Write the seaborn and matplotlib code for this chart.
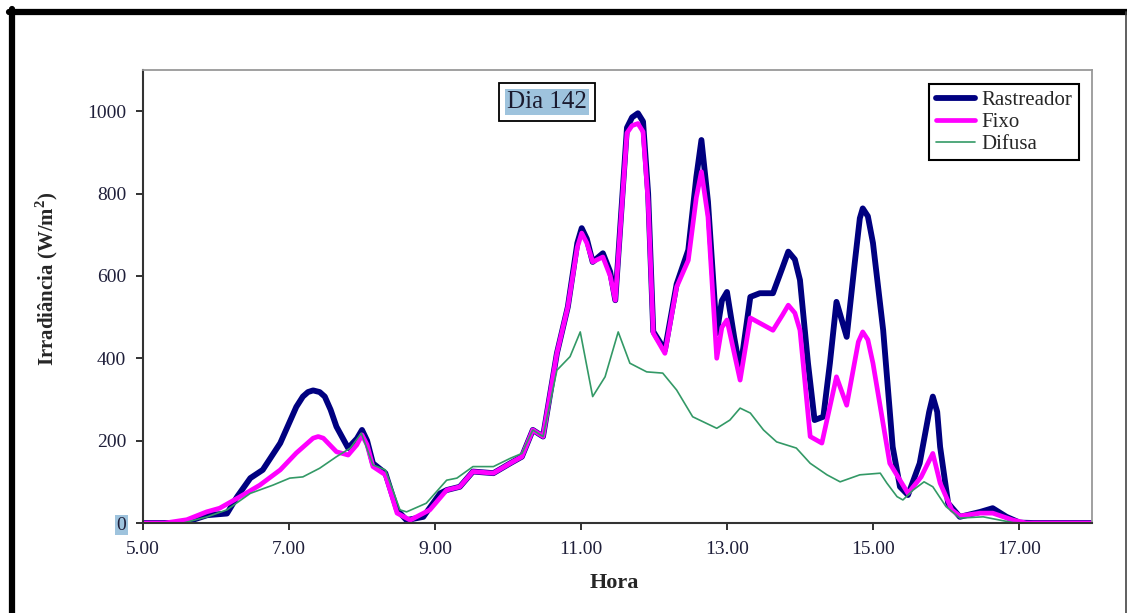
import matplotlib
matplotlib.use('Agg')
import matplotlib.pyplot as plt
import seaborn as sns
from matplotlib.lines import Line2D

# Irradiância ao longo do dia 142
hora_rastreador = [5.0, 5.55, 5.88, 6.15, 6.29, 6.47, 6.64, 6.88, 7.1, 7.19, 7.26, 7.33, 7.42, 7.49,
                   7.57, 7.65, 7.81, 7.93, 8.0, 8.07, 8.15, 8.32, 8.48, 8.61, 8.84, 9.07, 9.16,
                   9.34, 9.52, 9.8, 10.03, 10.19, 10.34, 10.48, 10.67, 10.82, 10.95, 11.01,
                   11.08, 11.16, 11.3, 11.4, 11.47, 11.63, 11.7, 11.78, 11.85, 11.92, 11.99,
                   12.15, 12.31, 12.47, 12.58, 12.65, 12.74, 12.86, 12.93, 13.0, 13.1, 13.18,
                   13.32, 13.45, 13.63, 13.76, 13.84, 13.93, 14.0, 14.11, 14.2, 14.32, 14.41,
                   14.5, 14.64, 14.75, 14.82, 14.86, 14.93, 15.0, 15.14, 15.27, 15.37, 15.48,
                   15.64, 15.77, 15.82, 15.88, 15.92, 16.03, 16.19, 16.47, 16.64, 16.83,
                   17.01, 17.2, 18.0]
rastreador = [0, 0, 19, 23, 64, 109, 129, 194, 282, 307, 318, 322, 318, 307,
              275, 234, 182, 205, 226, 200, 145, 121, 32, 7, 15, 72, 80,
              88, 125, 121, 145, 161, 226, 210, 412, 525, 680, 716,
              690, 634, 655, 610, 541, 960, 985, 995, 975, 800, 465,
              420, 580, 663, 840, 930, 780, 461, 540, 561, 450, 371,
              549, 558, 558, 620, 659, 640, 590, 388, 250, 258, 388,
              537, 452, 631, 740, 764, 745, 680, 468, 185, 88, 68,
              145, 270, 307, 270, 185, 48, 15, 27, 36, 15,
              1, 0, 0]

hora_fixo = [5.0, 5.3, 5.6, 5.87, 6.05, 6.33, 6.6, 6.88, 7.1, 7.33, 7.4, 7.47, 7.65, 7.81, 7.93,
             8.0, 8.07, 8.15, 8.32, 8.48, 8.66, 8.93, 9.16, 9.34, 9.52, 9.8, 10.03, 10.19,
             10.34, 10.48, 10.67, 10.82, 10.95, 11.01, 11.08, 11.16, 11.3, 11.4, 11.47,
             11.63, 11.7, 11.78, 11.85, 11.92, 11.99, 12.15, 12.31, 12.47, 12.58, 12.65,
             12.74, 12.86, 12.93, 13.0, 13.18, 13.32, 13.63, 13.76, 13.84, 13.93, 14.0,
             14.14, 14.3, 14.5, 14.64, 14.8, 14.86, 14.93, 15.0, 15.23, 15.48, 15.66,
             15.82, 15.92, 16.08, 16.19, 16.47, 16.64, 16.92, 17.1, 18.0]
fixo = [0, 0, 8, 27, 36, 64, 92, 129, 170, 206, 210, 206, 173, 165, 190,
        214, 190, 137, 117, 24, 7, 32, 80, 88, 125, 121, 145, 161,
        226, 210, 412, 525, 670, 704, 680, 634, 646, 600, 541,
        947, 965, 970, 950, 780, 461, 412, 573, 638, 790, 853,
        743, 400, 475, 493, 347, 498, 468, 505, 529, 510, 468,
        210, 194, 355, 286, 440, 464, 445, 388, 145, 72, 112,
        169, 97, 32, 17, 24, 24, 7, 0, 0]

hora_difusa = [5.0, 5.55, 5.88, 6.15, 6.47, 6.78, 7.01, 7.19, 7.42, 7.65, 7.84, 7.99, 8.15,
               8.32, 8.52, 8.61, 8.88, 9.16, 9.3, 9.52, 9.8, 10.03, 10.19, 10.34, 10.48,
               10.67, 10.85, 10.99, 11.16, 11.33, 11.51, 11.67, 11.9, 12.12, 12.31, 12.53,
               12.86, 13.04, 13.18, 13.32, 13.5, 13.68, 13.95, 14.14, 14.37, 14.55, 14.82,
               15.1, 15.19, 15.33, 15.41, 15.55, 15.7, 15.82, 16.0, 16.19, 16.51, 16.74,
               16.92, 17.1, 18.0]
difusa = [0, 0, 15, 32, 72, 92, 109, 112, 133, 161, 182, 218, 141,
          129, 32, 27, 48, 104, 109, 137, 137, 157, 169, 226, 210,
          371, 404, 464, 307, 355, 464, 388, 367, 364, 323, 258,
          230, 250, 279, 267, 226, 197, 182, 145, 117, 100, 117,
          121, 97, 64, 56, 80, 100, 88, 40, 12, 15, 7,
          1, 0, 0]

x_ticks = [5, 7, 9, 11, 13, 15, 17]
x_labels = ['5.00', '7.00', '9.00', '11.00', '13.00', '15.00', '17.00']
y_ticks = [0, 200, 400, 600, 800, 1000]

sns.set_style('white')
plt.rcParams['font.family'] = ['Liberation Serif', 'DejaVu Serif']
plt.rcParams['mathtext.fontset'] = 'custom'
plt.rcParams['mathtext.rm'] = 'Liberation Serif'
plt.rcParams['mathtext.bf'] = 'Liberation Serif:bold'

fig = plt.figure(figsize=(11.27, 6.13), dpi=100)
fig.patch.set_facecolor('white')
ax = fig.add_axes([0.1269, 0.1468, 0.8420, 0.7390])

sns.lineplot(x=hora_rastreador, y=rastreador, color='#000080', linewidth=4.2,
             label='Rastreador', ax=ax, solid_joinstyle='round', solid_capstyle='round')
sns.lineplot(x=hora_fixo, y=fixo, color='#FF00FF', linewidth=3.4,
             label='Fixo', ax=ax, solid_joinstyle='round', solid_capstyle='round')
sns.lineplot(x=hora_difusa, y=difusa, color='#339966', linewidth=1.2,
             label='Difusa', ax=ax, solid_joinstyle='round')

ax.set_xlim(5, 18)
ax.set_ylim(0, 1100)
ax.set_xticks(x_ticks)
ax.set_xticklabels(x_labels)
ax.set_yticks(y_ticks)
ax.set_yticklabels([str(v) for v in y_ticks])
ax.tick_params(axis='x', direction='out', length=5, width=1.3, color='#222222',
               labelsize=14, labelcolor='#1f1f3a', pad=8, bottom=True)
ax.tick_params(axis='y', direction='out', length=5, width=1.3, color='#222222',
               labelsize=14, labelcolor='#1f1f3a', pad=7, left=True)
ax.get_yticklabels()[0].set_bbox(dict(facecolor='#9ec3dd', edgecolor='none', pad=1))

for side in ['left', 'bottom']:
    ax.spines[side].set_color('#333333')
    ax.spines[side].set_linewidth(1.5)
for side in ['top', 'right']:
    ax.spines[side].set_color('#999999')
    ax.spines[side].set_linewidth(1.3)

ax.set_xlabel('Hora', fontsize=16, fontweight='bold', va='center')
ax.xaxis.set_label_coords(0.497, -0.132)
ax.set_ylabel(r'Irradiância (W/m$^\mathbf{2}$)', fontsize=15, fontweight='bold', va='center')
ax.yaxis.set_label_coords(-0.101, 0.54)

leg = ax.legend(loc='upper right', bbox_to_anchor=(0.986, 0.969), fontsize=15,
                frameon=True, fancybox=False, edgecolor='black', framealpha=1,
                handlelength=1.9, handletextpad=0.3, labelspacing=0.12,
                borderpad=0.3, borderaxespad=0)
leg.get_frame().set_linewidth(1.5)

# caixa do título
ax.text(0.4257, 0.929, 'Dia 142', transform=ax.transAxes, ha='center', va='center',
        fontsize=18, color='white', zorder=5,
        bbox=dict(facecolor='white', edgecolor='black', linewidth=1.3, boxstyle='square,pad=0.32'))
ax.text(0.4257, 0.929, 'Dia 142', transform=ax.transAxes, ha='center', va='center',
        fontsize=18, color='#1a1a2e', zorder=6,
        bbox=dict(facecolor='#9ec3dd', edgecolor='none', boxstyle='square,pad=0.08'))

# moldura externa da figura
fig.add_artist(Line2D([9 / 1127, 1127 / 1127], [1 - 12 / 613, 1 - 12 / 613],
                      transform=fig.transFigure, color='black', linewidth=4.5))
fig.add_artist(Line2D([12 / 1127, 12 / 1127], [0, 1 - 9 / 613],
                      transform=fig.transFigure, color='black', linewidth=4.5))
fig.add_artist(Line2D([1125.5 / 1127, 1125.5 / 1127], [0, 1 - 12 / 613],
                      transform=fig.transFigure, color='#444444', linewidth=1.2))

fig.savefig('out.png', dpi=100, facecolor='white')
